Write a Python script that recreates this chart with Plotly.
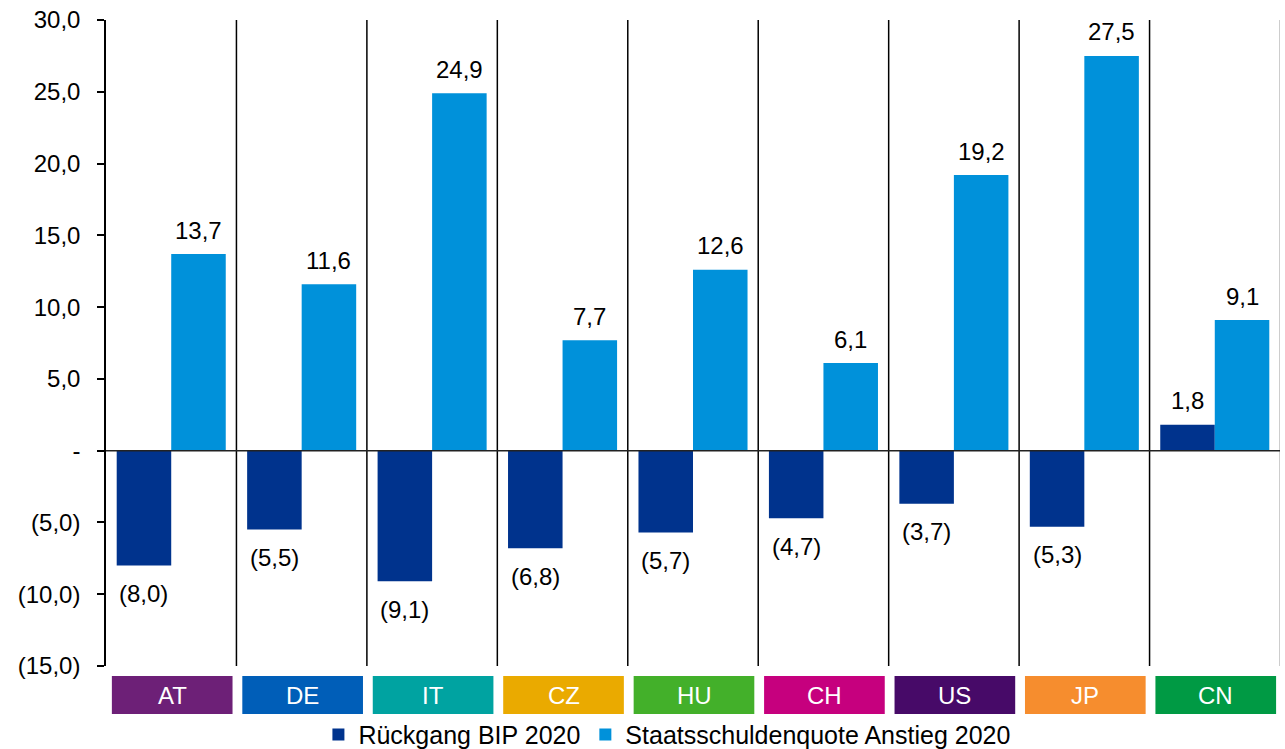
import plotly.graph_objects as go

# ---- data ----
categories = ["AT", "DE", "IT", "CZ", "HU", "CH", "US", "JP", "CN"]
bip_2020 = [-8.0, -5.5, -9.1, -6.8, -5.7, -4.7, -3.7, -5.3, 1.8]
schulden_2020 = [13.7, 11.6, 24.9, 7.7, 12.6, 6.1, 19.2, 27.5, 9.1]
series_names = ["Rückgang BIP 2020", "Staatsschuldenquote Anstieg 2020"]
cat_colors = ["#6D2077", "#005EB8", "#00A3A1", "#EAAA00", "#43B02A",
              "#C6007E", "#470A68", "#F68D2E", "#009A44"]
y_ticks = [-15, -10, -5, 0, 5, 10, 15, 20, 25, 30]

DARK = "#00338D"
LIGHT = "#0091DA"
FONT = "Liberation Sans, Arial, sans-serif"
FS = 24


def fmt(v):
    if v == 0:
        return "-"
    s = f"{abs(v):.1f}".replace(".", ",")
    return f"({s})" if v < 0 else s


x = list(range(len(categories)))
bargap = 0.164
half = (1 - bargap) / 4  # center offset of each bar within group

fig = go.Figure()
fig.add_trace(go.Bar(x=x, y=bip_2020, name=series_names[0],
                     marker=dict(color=DARK, line=dict(width=0))))
fig.add_trace(go.Bar(x=x, y=schulden_2020, name=series_names[1],
                     marker=dict(color=LIGHT, line=dict(width=0))))

annotations = []
shapes = []
for i, (a, b) in enumerate(zip(bip_2020, schulden_2020)):
    for v, off in ((a, -half), (b, half)):
        annotations.append(dict(
            x=i + off, y=v, xref="x", yref="y", text=fmt(v), showarrow=False,
            yshift=24 if v >= 0 else -28, yanchor="middle", xanchor="center",
            font=dict(family=FONT, size=FS, color="black")))
    # category box below the plot
    shapes.append(dict(type="rect", xref="x", yref="paper",
                       x0=i - 0.455, x1=i + 0.47, y0=-0.0743, y1=-0.0155,
                       fillcolor=cat_colors[i], line=dict(width=0), layer="above"))
    annotations.append(dict(x=i + 0.008, y=-0.045, xref="x", yref="paper",
                            text=categories[i], showarrow=False,
                            xanchor="center", yanchor="middle",
                            font=dict(family=FONT, size=FS, color="white")))

# separators between categories
for i in range(len(categories) - 1):
    shapes.append(dict(type="line", xref="x", yref="y", x0=i + 0.5, x1=i + 0.5,
                       y0=-15, y1=30, line=dict(color="black", width=1.5),
                       layer="above"))
shapes.append(dict(type="line", xref="x", yref="y", x0=8.5, x1=8.5,
                   y0=-15, y1=30, line=dict(color="#9a9a9a", width=1),
                   layer="above"))
# zero line across plot
shapes.append(dict(type="line", xref="x", yref="y", x0=-0.5, x1=8.5,
                   y0=0, y1=0, line=dict(color="#222222", width=1.5),
                   layer="above"))

fig.update_layout(
    width=1285, height=749,
    margin=dict(l=106, r=5, t=20, b=83, autoexpand=False),
    paper_bgcolor="white", plot_bgcolor="white",
    barmode="group", bargap=bargap, bargroupgap=0,
    font=dict(family=FONT, size=FS, color="black"),
    showlegend=True,
    legend=dict(orientation="h", x=0.519, xanchor="center",
                xref="container", yref="container", y=0.019,
                yanchor="middle", font=dict(family=FONT, size=25),
                itemwidth=30, tracegroupgap=0, bgcolor="rgba(0,0,0,0)"),
    xaxis=dict(range=[-0.5, 8.5], showticklabels=False, showgrid=False,
               zeroline=False, showline=False, ticks=""),
    yaxis=dict(range=[-15, 30], tickvals=y_ticks,
               ticktext=[fmt(v) for v in y_ticks], showgrid=False,
               zeroline=False, showline=True, linecolor="black", linewidth=1.5,
               ticks="outside", ticklen=7, tickwidth=1.5, tickcolor="black",
               ticklabelstandoff=12, automargin=False,
               tickfont=dict(family=FONT, size=FS, color="black")),
    annotations=annotations,
    shapes=shapes,
)

fig.write_html("out.html")
